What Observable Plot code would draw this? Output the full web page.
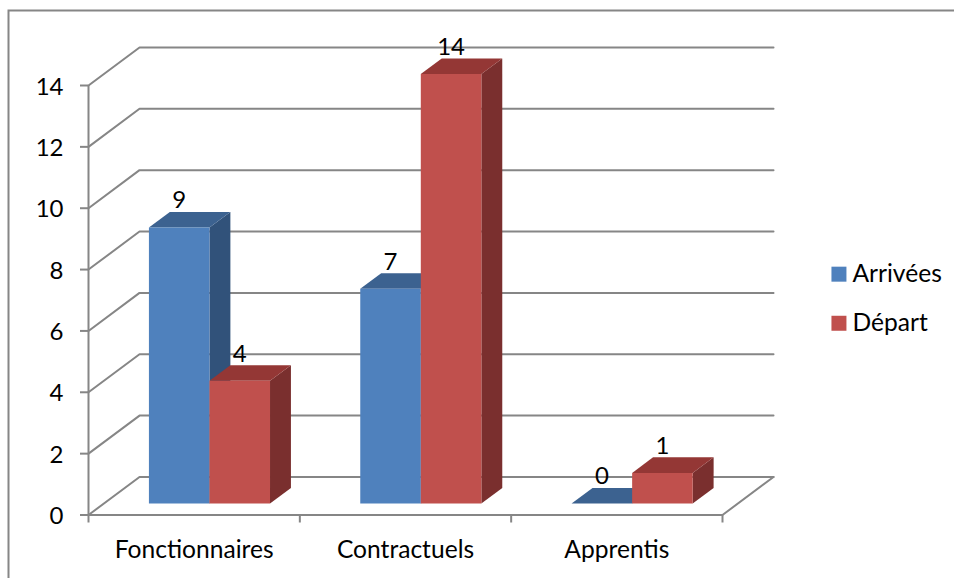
<!DOCTYPE html>
<html lang="fr">
<head>
<meta charset="utf-8">
<title>Arrivées et départs par statut</title>
<script src="https://cdn.jsdelivr.net/npm/d3@7"></script>
<script src="https://cdn.jsdelivr.net/npm/@observablehq/plot@0.6"></script>
<style>
  html, body { margin: 0; padding: 0; background: #fff; }
  svg { display: block; }
</style>
</head>
<body>
<div id="chart"></div>
<script>
// Effectifs par statut
const categories = ["Fonctionnaires", "Contractuels", "Apprentis"];
const arrivees = [9, 7, 0];
const depart = [4, 14, 1];
const yTicks = [0, 2, 4, 6, 8, 10, 12, 14];

// Teintes de chaque série : face avant, dessus, côté
const series = [
  {name: "Arrivées", values: arrivees, side: -1, front: "#4f81bd", top: "#3c6290", flank: "#31527a"},
  {name: "Départ", values: depart, side: 0, front: "#c0504d", top: "#943735", flank: "#7a2f2e"}
];

// Perspective : à profondeur 1, le plancher est décalé de ces quantités (unités des échelles)
const shiftX = 0.2414;
const shiftY = 1.24;
const barWidth = 0.2865;
const depthFront = 0.3;
const depthBack = 0.71;

const px = (x, d) => x + d * shiftX;
const py = (y, d) => y + d * shiftY;

// Faces de chaque barre, dans l'ordre de peinture
const faces = [];
series.forEach((s) => {
  s.values.forEach((v, i) => {
    const x1 = i + 0.5 + s.side * barWidth;
    const x2 = x1 + barWidth;
    const poly = (key, fill, pts) =>
      pts.forEach(([x, y, d]) => faces.push({face: `${s.name}-${i}-${key}`, fill, x: px(x, d), y: py(y, d)}));
    poly("flank", s.flank, [[x2, 0, depthFront], [x2, 0, depthBack], [x2, v, depthBack], [x2, v, depthFront]]);
    poly("top", s.top, [[x1, v, depthFront], [x1, v, depthBack], [x2, v, depthBack], [x2, v, depthFront]]);
    poly("front", s.front, [[x1, 0, depthFront], [x2, 0, depthFront], [x2, v, depthFront], [x1, v, depthFront]]);
  });
});

// Étiquettes de valeur, centrées au-dessus de la face avant
const valueLabels = series.flatMap((s) =>
  s.values.map((v, i) => ({
    value: v,
    x: px(i + 0.5 + s.side * barWidth + barWidth / 2, depthFront),
    y: py(v, depthFront)
  }))
);

// Lignes de grille : mur gauche puis mur du fond
const grid = yTicks.flatMap((t) => [
  {t, x: 0, y: t},
  {t, x: px(0, 1), y: py(t, 1)},
  {t, x: px(3, 1), y: py(t, 1)}
]);

const legend = [
  {name: series[0].name, color: series[0].front, x: 3.551, y: 7.85},
  {name: series[1].name, color: series[1].front, x: 3.551, y: 6.25}
];

const gridColor = "#868686";
const font = "Lato, Carlito, sans-serif";

const chart = Plot.plot({
  width: 954,
  height: 578,
  marginLeft: 88,
  marginRight: 232,
  marginTop: 85,
  marginBottom: 63.5,
  style: {background: "#fff", fontFamily: font, color: "#000"},
  x: {domain: [0, 3]},
  y: {domain: [0, 14]},
  marks: [
    // Cadre extérieur, ouvert à droite et en bas de la page
    Plot.frame({stroke: gridColor, strokeWidth: 2, insetLeft: -80, insetTop: -75, insetRight: -240, insetBottom: -70}),
    Plot.line(grid, {x: "x", y: "y", z: "t", stroke: gridColor, strokeWidth: 2}),
    Plot.line([{x: 3, y: 0}, {x: px(3, 1), y: py(0, 1)}], {x: "x", y: "y", stroke: gridColor, strokeWidth: 2}),
    Plot.ruleX([0], {y1: 0, y2: 14, stroke: gridColor, strokeWidth: 2}),
    Plot.ruleY([0], {x1: 0, x2: 3, stroke: gridColor, strokeWidth: 2}),
    Plot.axisY({ticks: yTicks, tickSize: 8, label: null, stroke: gridColor, strokeWidth: 2, fill: "none"}),
    Plot.axisY({
      ticks: yTicks, tickSize: 0, tickPadding: 25, label: null, dy: 1.5,
      fontSize: 24, fill: "#000", tickFormat: (d) => d
    }),
    Plot.axisX({ticks: [0, 1, 2, 3], tickSize: 8, label: null, stroke: gridColor, strokeWidth: 2, fill: "none"}),
    Plot.axisX({
      ticks: categories.map((_, i) => i + 0.5), tickSize: 0, tickPadding: 26, label: null,
      fontSize: 24.6, fill: "#000", tickFormat: (d) => categories[Math.floor(d)]
    }),
    Plot.line(faces, {x: "x", y: "y", z: "face", fill: "fill", stroke: "none"}),
    Plot.text(valueLabels, {x: "x", y: "y", text: "value", dy: -27, fontSize: 24, fill: "#000"}),
    Plot.dot(legend, {x: "x", y: "y", symbol: "square", r: 8.46, fill: "color", stroke: "none"}),
    Plot.text(legend, {x: "x", y: "y", text: "name", dx: 13.5, textAnchor: "start", fontSize: 24.6, fill: "#000"})
  ]
});

document.getElementById("chart").append(chart);
</script>
</body>
</html>
